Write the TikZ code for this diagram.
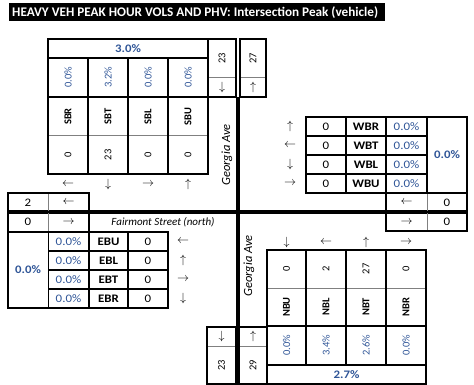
\documentclass[tikz,border=0pt]{standalone}
\usepackage{fontspec}
\setmainfont{Carlito}
\usepackage{xcolor}
\usepackage{tikz}
\usetikzlibrary{positioning}
\definecolor{phvblue}{HTML}{2F5597}
\definecolor{phvgrey}{HTML}{808080}

\tikzset{
  cellbk/.style={black, line width=1.2pt},
  cellgr/.style={phvgrey, line width=1pt},
  road/.style={black, line width=4pt},
  % horizontal cells
  vol/.style={font=\fontsize{11.5}{13}\selectfont, inner sep=0pt, xscale=1.12},
  lbl/.style={font=\fontsize{11.5}{13}\selectfont\bfseries, inner sep=0pt, xscale=1.12},
  pct/.style={font=\fontsize{11.5}{13}\selectfont, text=phvblue, inner sep=0pt, xscale=1.12},
  tot/.style={font=\fontsize{11.5}{13}\selectfont\bfseries, text=phvblue, inner sep=0pt, xscale=1.12},
  arr/.style={font=\fontsize{11.5}{13}\selectfont, inner sep=0pt},
  % rotated cells
  rvol/.style={font=\fontsize{10.5}{12}\selectfont, inner sep=0pt, rotate=90},
  rlbl/.style={font=\fontsize{10.5}{12}\selectfont\bfseries, inner sep=0pt, rotate=90},
  rpct/.style={font=\fontsize{10.5}{12}\selectfont, text=phvblue, inner sep=0pt, rotate=90},
  street/.style={font=\fontsize{11}{13}\selectfont\itshape, inner sep=0pt},
  rstreet/.style={font=\fontsize{12.5}{14}\selectfont\itshape, inner sep=0pt, rotate=90},
}

\begin{document}
\begin{tikzpicture}[x=1pt, y=-1pt]
  \useasboundingbox (0,0) rectangle (474,385);
  % title bar
  \fill[black] (9,3) rectangle (385,21);
  \node[anchor=west, text=white, font=\fontsize{13.2}{14}\selectfont\bfseries, inner sep=0pt] (title) at (12,12.3)
    {HEAVY VEH PEAK HOUR VOLS AND PHV: Intersection Peak (vehicle)};

  % roads
  \draw[road] (237.5,97) -- (237.5,385);
  \draw[road] (8,212) -- (467,212);

  % southbound approach (north leg)
  \draw[cellgr] (48,136) -- (208,136);
  \draw[cellbk] (48,39) rectangle (208,174);
  \draw[cellbk] (48,58) -- (208,58);
  \draw[cellbk] (48,97) -- (208,97);
  \draw[cellbk] (88,58) -- (88,174);
  \draw[cellbk] (128,58) -- (128,174);
  \draw[cellbk] (168,58) -- (168,174);
  \node[tot] (sbtot) at (128,48.5) {3.0\%};
  \node[rpct] (sbrpct) at (68,77.5) {0.0\%};
  \node[rpct] (sbtpct) at (108,77.5) {3.2\%};
  \node[rpct] (sblpct) at (148,77.5) {0.0\%};
  \node[rpct] (sbupct) at (188,77.5) {0.0\%};
  \node[rlbl] (sbr) at (68,116.5) {SBR};
  \node[rlbl] (sbt) at (108,116.5) {SBT};
  \node[rlbl] (sbl) at (148,116.5) {SBL};
  \node[rlbl] (sbu) at (188,116.5) {SBU};
  \node[rvol] (sbrvol) at (68,155) {0};
  \node[rvol] (sbtvol) at (108,155) {23};
  \node[rvol] (sblvol) at (148,155) {0};
  \node[rvol] (sbuvol) at (188,155) {0};
  \node[arr] (sbrarr) at (68,184) {$\leftarrow$};
  \node[arr] (sbtarr) at (108,184) {$\downarrow$};
  \node[arr] (sblarr) at (148,184) {$\rightarrow$};
  \node[arr] (sbuarr) at (188,184) {$\uparrow$};

  % north leg in / out
  \draw[cellgr] (208,78) -- (236,78);
  \draw[cellbk] (208,39) rectangle (236,97);
  \node[rvol] (nlin) at (222,58.5) {23};
  \node[arr] (nlinarr) at (222,87.5) {$\downarrow$};
  \draw[cellgr] (240,78) -- (266,78);
  \draw[cellbk] (240,39) rectangle (266,97);
  \node[rvol] (nlout) at (253,58.5) {27};
  \node[arr] (nloutarr) at (253,87.5) {$\uparrow$};
  \node[rstreet] (georgian) at (227,155) {Georgia Ave};

  % westbound approach (east leg)
  \draw[cellbk] (306,117) rectangle (467,193);
  \draw[cellbk] (306,136) -- (427,136);
  \draw[cellbk] (306,155) -- (427,155);
  \draw[cellbk] (306,174) -- (427,174);
  \draw[cellbk] (346,117) -- (346,193);
  \draw[cellbk] (386,117) -- (386,193);
  \draw[cellbk] (427,117) -- (427,193);
  \node[arr] (wbrarr) at (290,126.5) {$\uparrow$};
  \node[arr] (wbtarr) at (290,145.5) {$\leftarrow$};
  \node[arr] (wblarr) at (290,164.5) {$\downarrow$};
  \node[arr] (wbuarr) at (290,183.5) {$\rightarrow$};
  \node[vol] (wbrvol) at (326,126.5) {0};
  \node[vol] (wbtvol) at (326,145.5) {0};
  \node[vol] (wblvol) at (326,164.5) {0};
  \node[vol] (wbuvol) at (326,183.5) {0};
  \node[lbl] (wbr) at (366,126.5) {WBR};
  \node[lbl] (wbt) at (366,145.5) {WBT};
  \node[lbl] (wbl) at (366,164.5) {WBL};
  \node[lbl] (wbu) at (366,183.5) {WBU};
  \node[pct] (wbrpct) at (406.5,126.5) {0.0\%};
  \node[pct] (wbtpct) at (406.5,145.5) {0.0\%};
  \node[pct] (wblpct) at (406.5,164.5) {0.0\%};
  \node[pct] (wbupct) at (406.5,183.5) {0.0\%};
  \node[tot] (wbtot) at (447,155) {0.0\%};
  % east leg in / out
  \draw[cellgr] (427,193) -- (427,231);
  \draw[cellbk] (386,193) rectangle (467,212);
  \draw[cellbk] (386,212) rectangle (467,231);
  \node[arr] (elinarr) at (406.5,202.5) {$\leftarrow$};
  \node[vol] (elin) at (447,202.5) {0};
  \node[arr] (eloutarr) at (406.5,222) {$\rightarrow$};
  \node[vol] (elout) at (447,222) {0};

  % west leg in / out
  \draw[cellgr] (48.5,193) -- (48.5,232);
  \draw[cellbk] (8,193) rectangle (89,212);
  \draw[cellbk] (8,212) rectangle (89,232);
  \node[vol] (wlout) at (28,202.5) {2};
  \node[arr] (wloutarr) at (68.5,202.5) {$\leftarrow$};
  \node[vol] (wlin) at (28,222) {0};
  \node[arr] (wlinarr) at (68.5,222) {$\rightarrow$};
  \node[street] (fairmont) at (163,222) {Fairmont Street (north)};

  % eastbound approach (west leg)
  \draw[cellbk] (8,232) rectangle (168,308);
  \draw[cellbk] (48.5,251) -- (168,251);
  \draw[cellbk] (48.5,270) -- (168,270);
  \draw[cellbk] (48.5,289) -- (168,289);
  \draw[cellbk] (48.5,232) -- (48.5,308);
  \draw[cellbk] (89,232) -- (89,308);
  \draw[cellbk] (128,232) -- (128,308);
  \node[tot] (ebtot) at (28,270) {0.0\%};
  \node[pct] (ebupct) at (68.5,241.5) {0.0\%};
  \node[pct] (eblpct) at (68.5,260.5) {0.0\%};
  \node[pct] (ebtpct) at (68.5,279.5) {0.0\%};
  \node[pct] (ebrpct) at (68.5,298.5) {0.0\%};
  \node[lbl] (ebu) at (108.5,241.5) {EBU};
  \node[lbl] (ebl) at (108.5,260.5) {EBL};
  \node[lbl] (ebt) at (108.5,279.5) {EBT};
  \node[lbl] (ebr) at (108.5,298.5) {EBR};
  \node[vol] (ebuvol) at (148,241.5) {0};
  \node[vol] (eblvol) at (148,260.5) {0};
  \node[vol] (ebtvol) at (148,279.5) {0};
  \node[vol] (ebrvol) at (148,298.5) {0};
  \node[arr] (ebuarr) at (183,241.5) {$\leftarrow$};
  \node[arr] (eblarr) at (183,260.5) {$\uparrow$};
  \node[arr] (ebtarr) at (183,279.5) {$\rightarrow$};
  \node[arr] (ebrarr) at (183,298.5) {$\downarrow$};

  % northbound approach (south leg)
  \draw[cellgr] (267,288) -- (426,288);
  \draw[cellbk] (267,250) rectangle (426,384);
  \draw[cellbk] (267,326) -- (426,326);
  \draw[cellbk] (267,365) -- (426,365);
  \draw[cellbk] (306,250) -- (306,365);
  \draw[cellbk] (346,250) -- (346,365);
  \draw[cellbk] (386,250) -- (386,365);
  \node[arr] (nbuarr) at (286.5,242) {$\downarrow$};
  \node[arr] (nblarr) at (326,242) {$\leftarrow$};
  \node[arr] (nbtarr) at (366,242) {$\uparrow$};
  \node[arr] (nbrarr) at (406,242) {$\rightarrow$};
  \node[rvol] (nbuvol) at (286.5,269) {0};
  \node[rvol] (nblvol) at (326,269) {2};
  \node[rvol] (nbtvol) at (366,269) {27};
  \node[rvol] (nbrvol) at (406,269) {0};
  \node[rlbl] (nbu) at (286.5,307) {NBU};
  \node[rlbl] (nbl) at (326,307) {NBL};
  \node[rlbl] (nbt) at (366,307) {NBT};
  \node[rlbl] (nbr) at (406,307) {NBR};
  \node[rpct] (nbupct) at (286.5,345.5) {0.0\%};
  \node[rpct] (nblpct) at (326,345.5) {3.4\%};
  \node[rpct] (nbtpct) at (366,345.5) {2.6\%};
  \node[rpct] (nbrpct) at (406,345.5) {0.0\%};
  \node[tot] (nbtot) at (346.5,374.5) {2.7\%};
  \node[rstreet] (georgias) at (249,266) {Georgia Ave};

  % south leg in / out
  \draw[cellgr] (207,346) -- (236,346);
  \draw[cellbk] (207,327) rectangle (236,384);
  \node[arr] (slinarr) at (221.5,336.5) {$\downarrow$};
  \node[rvol] (slin) at (221.5,365) {23};
  \draw[cellgr] (239,346) -- (267,346);
  \draw[cellbk] (239,327) rectangle (267,384);
  \node[arr] (sloutarr) at (253,336.5) {$\uparrow$};
  \node[rvol] (slout) at (253,365) {29};
\end{tikzpicture}
\end{document}
